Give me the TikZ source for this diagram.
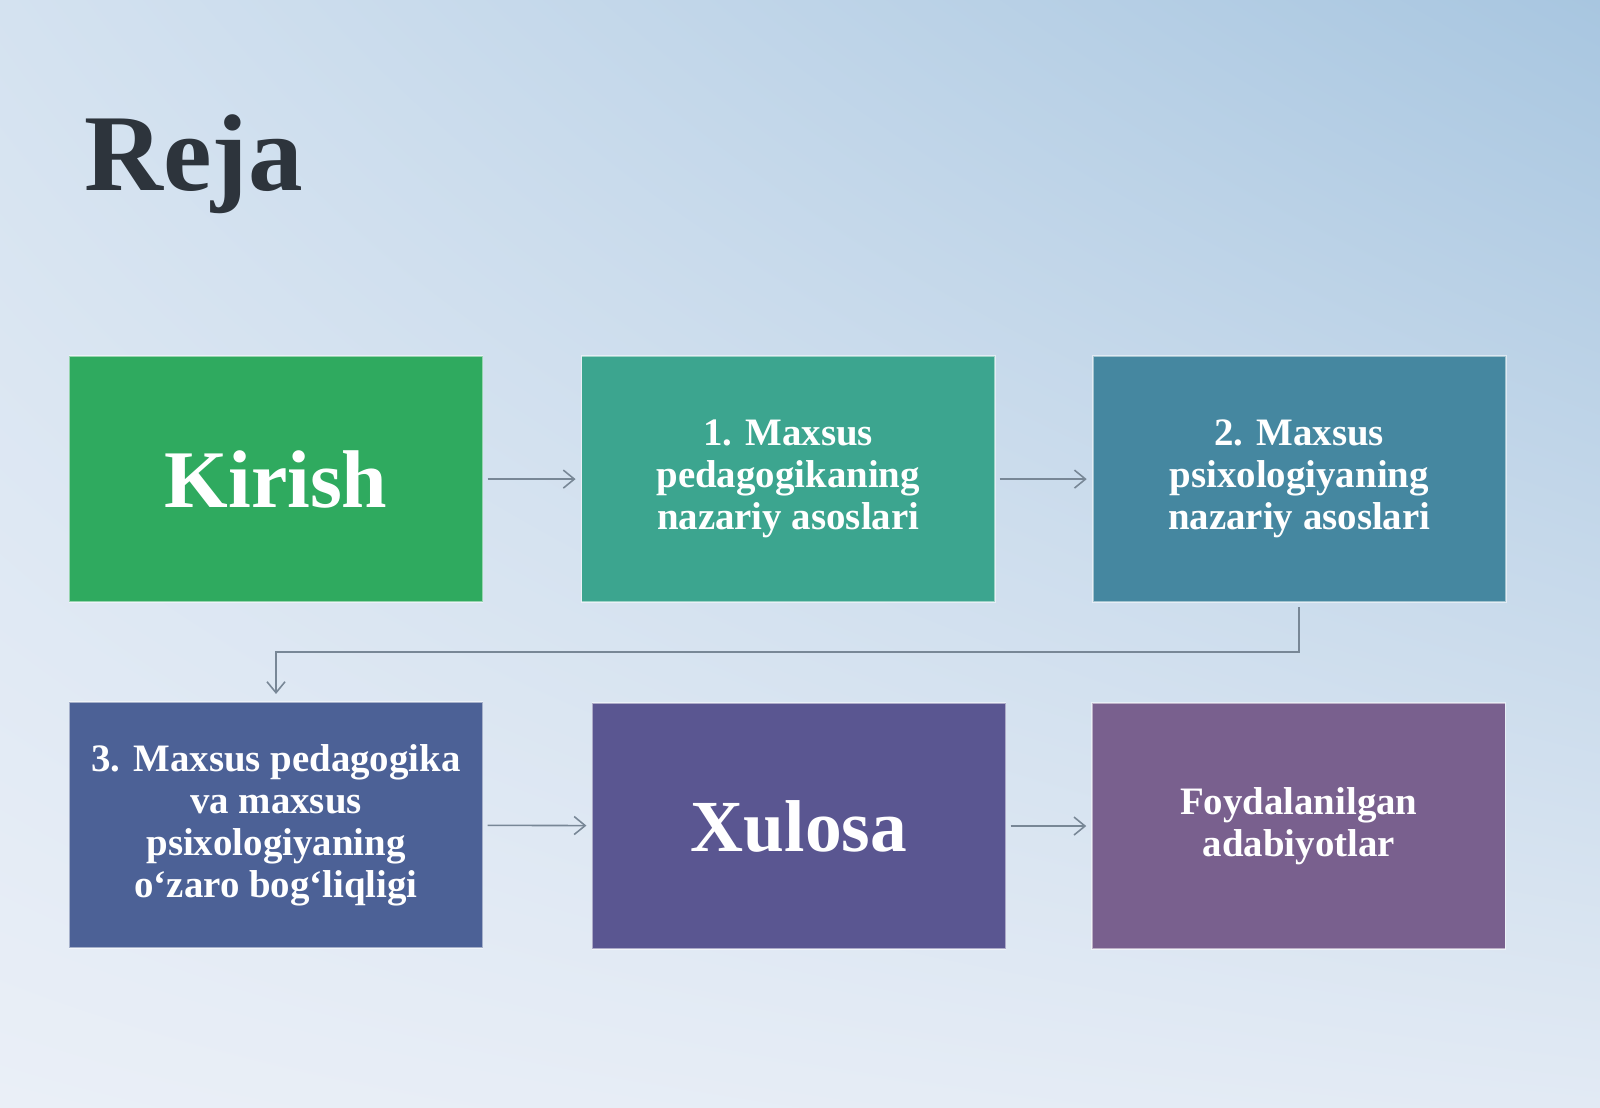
\documentclass[tikz,border=0pt]{standalone}
\usepackage{fontspec}
\setmainfont{Liberation Serif}
\usetikzlibrary{positioning,arrows.meta,calc,shadings}

\definecolor{kirishgreen}{RGB}{47,170,95}
\definecolor{tealone}{RGB}{60,165,143}
\definecolor{tealtwo}{RGB}{69,135,160}
\definecolor{bluethree}{RGB}{76,97,150}
\definecolor{violetxul}{RGB}{90,86,145}
\definecolor{plumfoyd}{RGB}{121,96,142}
\definecolor{linegray}{RGB}{120,135,150}
\definecolor{titlegray}{RGB}{45,52,60}
\definecolor{bgtopleft}{RGB}{212,226,240}
\definecolor{bgtopright}{RGB}{168,198,224}
\definecolor{bgbotleft}{RGB}{234,239,247}
\definecolor{bgbotright}{RGB}{226,234,244}

\tikzset{
  planbox/.style={minimum width=4.133cm, minimum height=2.459cm, align=center,
    text=white, inner sep=0pt, outer sep=0pt, draw=white, draw opacity=0.5,
    line width=0.5pt, font=\bfseries\fontsize{11.06}{11.95}\selectfont},
  bigtext/.style={font=\bfseries\fontsize{#1}{#1}\selectfont},
  flowline/.style={draw=linegray, line width=0.45pt,
    -{Straight Barb[length=0.11cm,width=0.18cm,line width=0.45pt]},
    shorten <=0.05cm, shorten >=0.06cm}
}

\begin{document}
\begin{tikzpicture}[x=0.0102041cm, y=-0.0102041cm]
  % background
  \shade[upper left=bgtopleft, upper right=bgtopright,
         lower left=bgbotleft, lower right=bgbotright]
    (0,0) rectangle (1568,1084.86);
  \useasboundingbox (0,0) rectangle (1568,1084.86);

  % title
  \node[anchor=base west, inner sep=0pt, text=titlegray, bigtext=31.1] (title) at (82,187) {Reja};

  % first row
  \node[planbox, fill=kirishgreen, bigtext=23.3] (kirish) at (270.5,469.5) {Kirish};
  \node[planbox, fill=tealone, right=0.99cm of kirish] (part1) {1. Maxsus\\ pedagogikaning\\ nazariy asoslari};
  \node[planbox, fill=tealtwo, right=0.98cm of part1] (part2) {2. Maxsus\\ psixologiyaning\\ nazariy asoslari};

  % second row
  \node[planbox, fill=bluethree, below=1.0cm of kirish] (part3) {3. Maxsus pedagogika\\ va maxsus\\ psixologiyaning\\ o‘zaro bog‘liqligi};
  \node[planbox, fill=violetxul, bigtext=20.9] (xulosa) at (783,809.5) {Xulosa};
  \node[planbox, fill=plumfoyd, right=0.867cm of xulosa] (foyd) {Foydalanilgan\\ adabiyotlar};

  % connectors
  \draw[flowline] (kirish) -- (part1);
  \draw[flowline] (part1) -- (part2);
  \coordinate (bend) at (part2.south |- 0,639);
  \draw[flowline, shorten >=0.08cm] (part2.south) -- (bend) -| (part3.north);
  \draw[flowline] (part3) -- (xulosa);
  \draw[flowline] (xulosa) -- (foyd);
\end{tikzpicture}
\end{document}
